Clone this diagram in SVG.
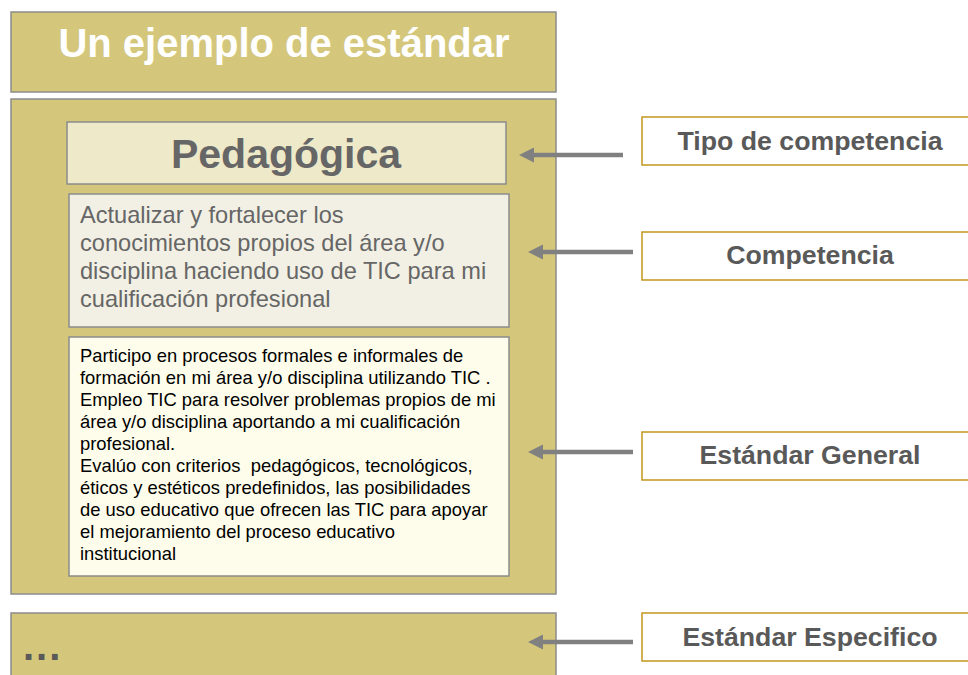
<svg xmlns="http://www.w3.org/2000/svg" width="968" height="675" viewBox="0 0 968 675">
<style>
.olive{fill:#D4C77C;stroke:#8C8C8C;stroke-width:1.5}
.lbl{fill:#FFFFFF;stroke:#C4961E;stroke-width:1.5}
.lt{font-family:"Liberation Sans",Arial,sans-serif;font-weight:bold;font-size:26.7px;fill:#595959;text-anchor:middle}
.arr{stroke:#808080;stroke-width:4.5;fill:none}
.ah{fill:#808080}
</style>
<rect x="0" y="0" width="968" height="675" fill="#FFFFFF"/>
<g id="title">
<rect class="olive" x="11" y="12" width="545" height="80"/>
<text x="284" y="57" font-family="Liberation Sans,Arial,sans-serif" font-weight="bold" font-size="40" fill="#FFFFFF" text-anchor="middle">Un ejemplo de estándar</text>
</g>
<g id="main">
<rect class="olive" x="11" y="99" width="545" height="495"/>
</g>
<g id="pedagogica">
<rect x="67" y="122" width="439" height="62" fill="#EEE9C9" stroke="#8C8C8C" stroke-width="1.5"/>
<text x="286" y="168" font-family="Liberation Sans,Arial,sans-serif" font-weight="bold" font-size="41" fill="#666666" text-anchor="middle">Pedagógica</text>
</g>
<g id="competencia-texto">
<rect x="69" y="194" width="440" height="133" fill="#F2F0E4" stroke="#8C8C8C" stroke-width="1.5"/>
<text font-family="Liberation Sans,Arial,sans-serif" font-size="23.6" fill="#666666">
<tspan x="80" y="223">Actualizar y fortalecer los</tspan>
<tspan x="80" y="251">conocimientos propios del área y/o</tspan>
<tspan x="80" y="279">disciplina haciendo uso de TIC para mi</tspan>
<tspan x="80" y="307">cualificación profesional</tspan>
</text>
</g>
<g id="estandar-texto">
<rect x="69" y="337" width="440" height="239" fill="#FEFDEB" stroke="#8C8C8C" stroke-width="1.5"/>
<text font-family="Liberation Sans,Arial,sans-serif" font-size="18.4" fill="#000000" style="white-space:pre">
<tspan x="80" y="362">Participo en procesos formales e informales de</tspan>
<tspan x="80" y="384">formación en mi área y/o disciplina utilizando TIC .</tspan>
<tspan x="80" y="406">Empleo TIC para resolver problemas propios de mi</tspan>
<tspan x="80" y="428">área y/o disciplina aportando a mi cualificación</tspan>
<tspan x="80" y="450">profesional.</tspan>
<tspan x="80" y="472">Evalúo con criterios  pedagógicos, tecnológicos,</tspan>
<tspan x="80" y="494">éticos y estéticos predefinidos, las posibilidades</tspan>
<tspan x="80" y="516">de uso educativo que ofrecen las TIC para apoyar</tspan>
<tspan x="80" y="538">el mejoramiento del proceso educativo</tspan>
<tspan x="80" y="560">institucional</tspan>
</text>
</g>
<g id="bottom">
<rect class="olive" x="11" y="613" width="545" height="80"/>
<text x="23" y="660" font-family="Liberation Sans,Arial,sans-serif" font-weight="bold" font-size="40" letter-spacing="2" fill="#595959">...</text>
</g>
<g id="lbl-tipo">
<rect class="lbl" x="642" y="117" width="336" height="48"/>
<text class="lt" x="810" y="150">Tipo de competencia</text>
</g>
<g id="lbl-competencia">
<rect class="lbl" x="642" y="232" width="336" height="48"/>
<text class="lt" x="810" y="264">Competencia</text>
</g>
<g id="lbl-general">
<rect class="lbl" x="642" y="432" width="336" height="48"/>
<text class="lt" x="810" y="464">Estándar General</text>
</g>
<g id="lbl-especifico">
<rect class="lbl" x="642" y="613" width="336" height="48"/>
<text class="lt" x="810" y="646">Estándar Especifico</text>
</g>
<g id="connectors">
<line class="arr" x1="623" y1="155" x2="530" y2="155"/>
<polygon class="ah" points="519,155 534,147.5 534,162.5"/>
<line class="arr" x1="633" y1="252" x2="539" y2="252"/>
<polygon class="ah" points="528,252 543,244.5 543,259.5"/>
<line class="arr" x1="633" y1="452" x2="539" y2="452"/>
<polygon class="ah" points="528,452 543,444.5 543,459.5"/>
<line class="arr" x1="633" y1="642" x2="539" y2="642"/>
<polygon class="ah" points="528,642 543,634.5 543,649.5"/>
</g>
</svg>
